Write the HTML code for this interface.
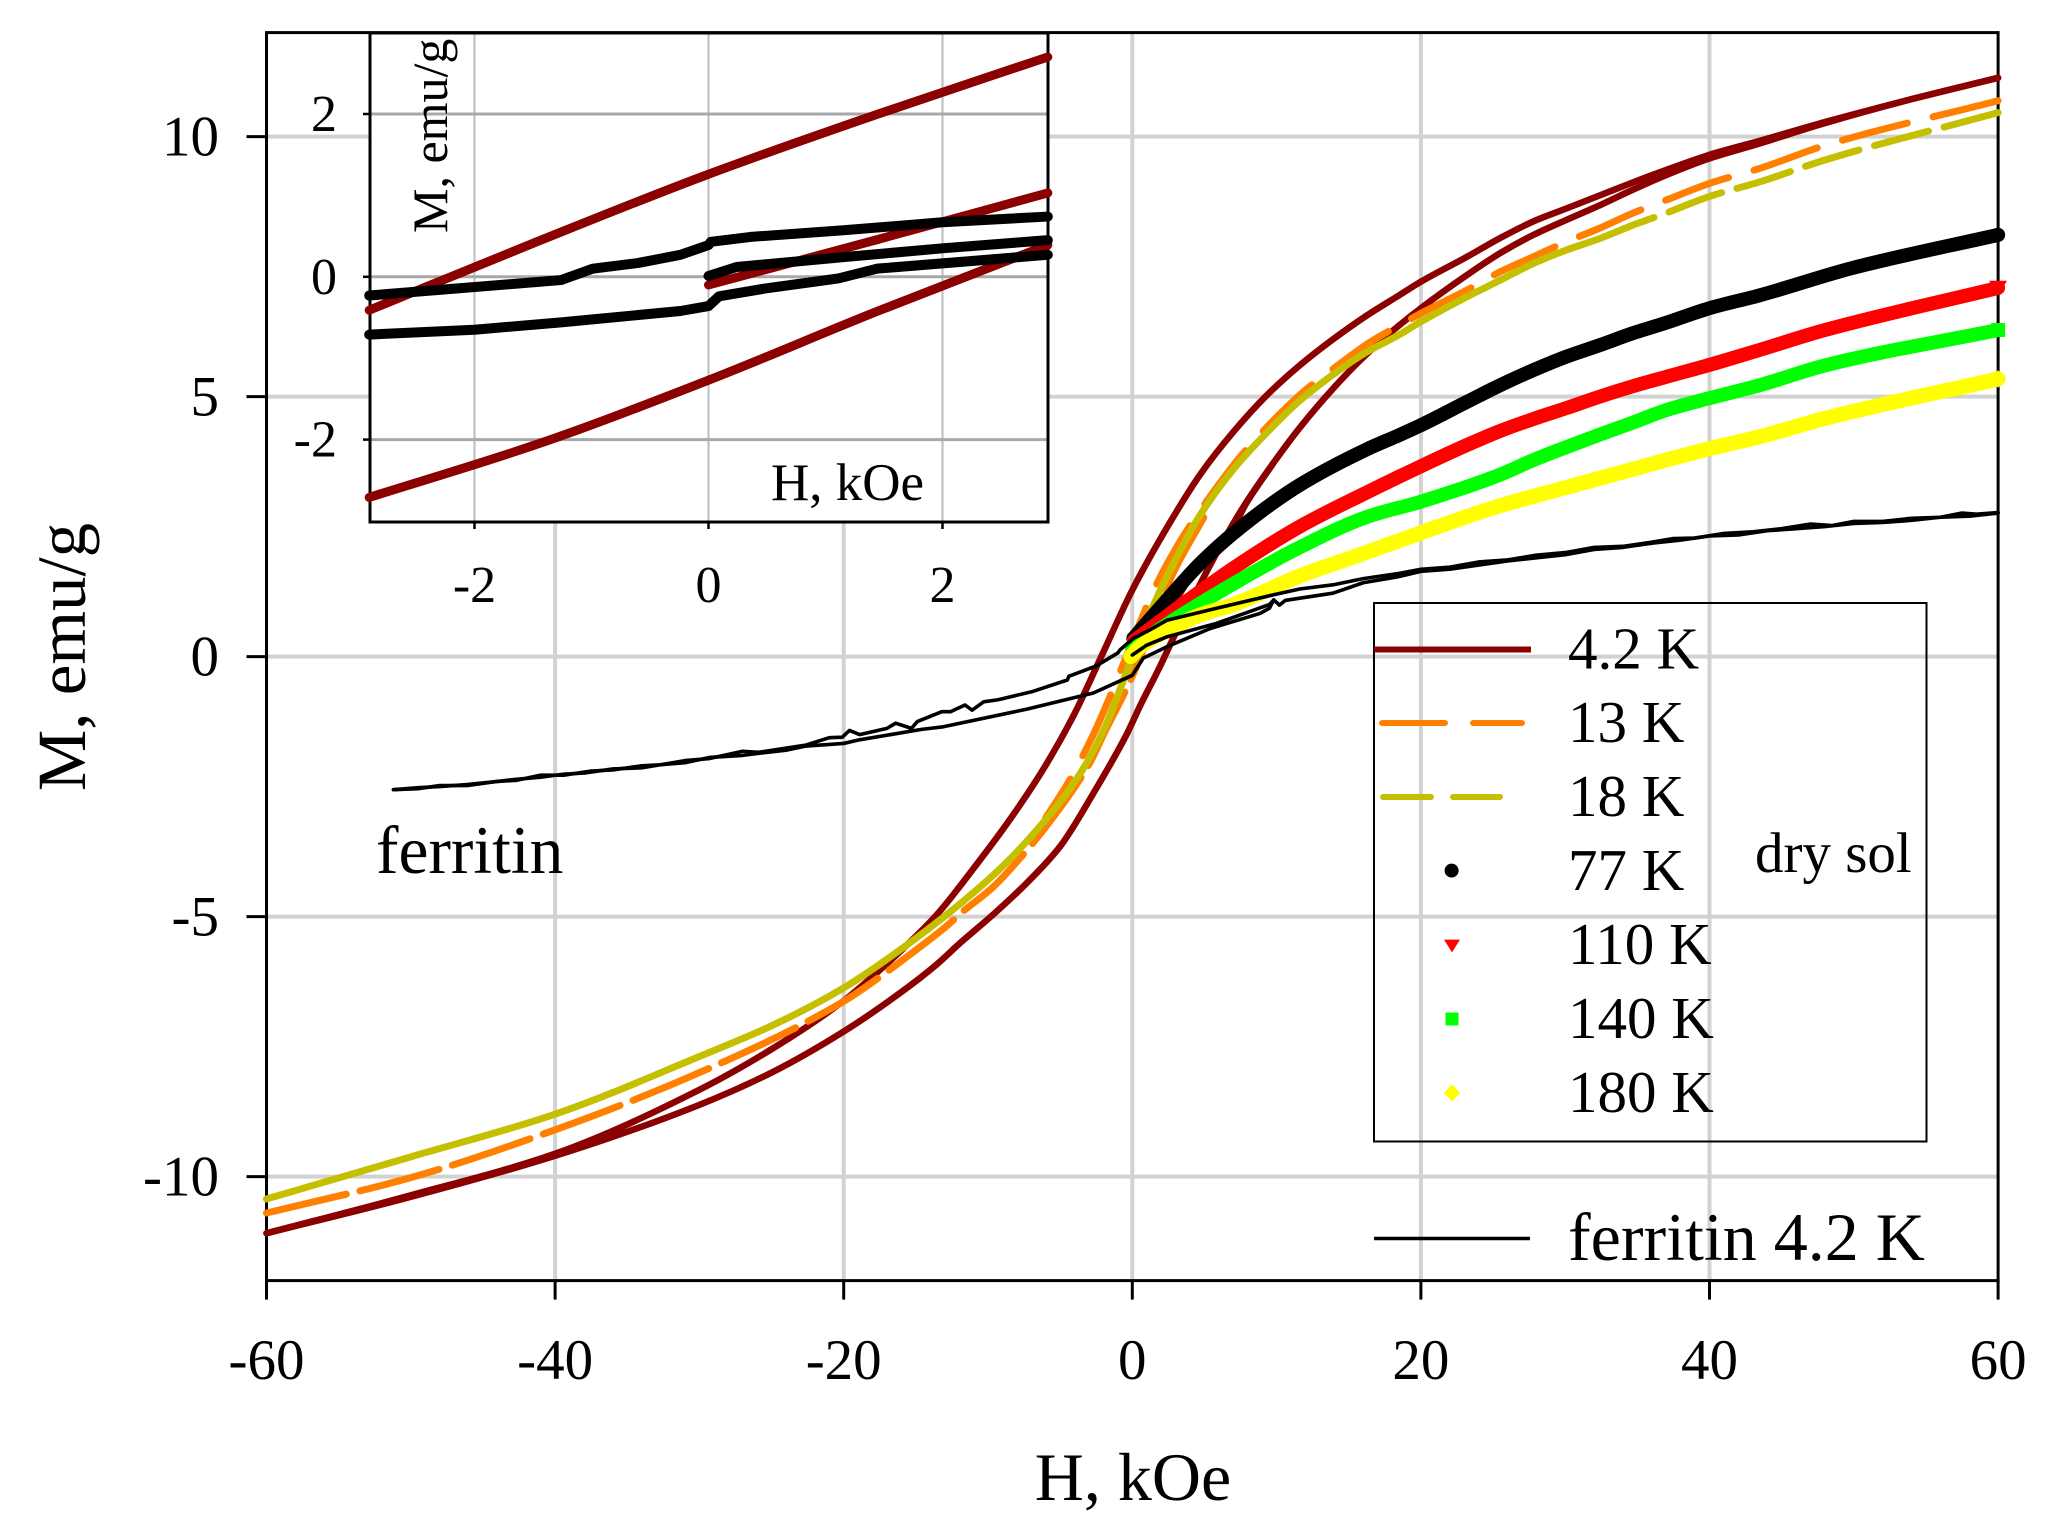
<!DOCTYPE html>
<html lang="en">
<head>
<meta charset="utf-8">
<title>Magnetization curves of dry sol and ferritin</title>
<style>
html,body{margin:0;padding:0;background:#fff;}
svg{display:block;font-family:"Liberation Serif",serif;fill:#000;}
</style>
</head>
<body>
<svg id="chart" xmlns="http://www.w3.org/2000/svg" width="2049" height="1539" viewBox="0 0 2049 1539">
</svg>
<script>
// ---- Tick labels ----
const mainXTicks = [-60,-40,-20,0,20,40,60];
const mainYTicks = [-10,-5,0,5,10];
const insetXTicks = [-2,0,2];
const insetYTicks = [-2,0,2];

// ---- Main plot data: H in kOe, M in emu/g ----
const h42Upper = [-60,-50,-40,-30,-25,-20,-18.4,-15.9,-13.6,-10.8,-8.5,-6.2,-4.1,-2.2,0,2.4,4.7,7,9.3,11.6,13.9,16.2,18.5,20,23.2,25.5,27.8,30.1,32.4,34.7,37,40,43.5,48,54,60];
const m42Upper = [-11.09,-10.36,-9.56,-8.33,-7.55,-6.62,-6.25,-5.62,-4.98,-4.0,-3.14,-2.18,-1.15,-0.03,1.28,2.48,3.5,4.32,5.02,5.6,6.1,6.55,6.95,7.21,7.69,8.05,8.37,8.62,8.87,9.12,9.36,9.65,9.92,10.28,10.72,11.13];
const h42Lower = [-60,-50,-40,-30,-25,-20,-16.1,-13.6,-11.9,-9.6,-7.3,-5,-2.7,-0.4,0,0.5,1.9,2.9,5.84,7.7,9.77,11.6,13.9,15.8,17.85,20,23.2,25.5,27.8,30.1,32.4,34.7,37,40,43.5,48,54,60];
const m42Lower = [-11.09,-10.39,-9.6,-8.62,-8.0,-7.21,-6.47,-5.93,-5.5,-4.95,-4.35,-3.65,-2.63,-1.5,-1.27,-0.97,-0.2,0.39,1.99,2.88,3.72,4.4,5.15,5.7,6.22,6.7,7.34,7.76,8.11,8.4,8.68,8.98,9.26,9.58,9.87,10.26,10.72,11.13];
const h42Virgin = [0,1,2.9,5,7,7.9,9.77];
const m42Virgin = [-0.1,0.25,1.03,1.95,2.5,2.95,3.72];

const h13Down = [-6,-4.5,-2.7,-1,0.3,1.7,3.5,5.84,7.5,10.9,12.1,14,16.5,18.5,20,23.2,25.5,27.8,30.1,32.4,34.7,37,40,43.5,48,60];
const m13Down = [-3.1,-2.45,-1.5,-0.4,0.5,1.4,2.3,3.25,3.85,4.85,5.15,5.55,6.05,6.37,6.6,7.05,7.4,7.69,7.98,8.24,8.53,8.78,9.1,9.39,9.83,10.69];
const h13Up = [-60,-50,-40,-30,-20,-17,-15.6,-12.9,-11.9,-9.6,-7.3,-5.9,-2.9,-2,0,1.9,2.6,5];
const m13Up = [-10.7,-10.02,-9.1,-8.0,-6.63,-6.06,-5.77,-5.19,-4.94,-4.42,-3.72,-3.24,-2.02,-1.5,-0.38,0.96,1.47,2.7];

const h18Solid = [-60,-50,-40,-30,-25,-20,-15.4,-10.8,-8.5,-6.2,-4.55,-2.9,-1.8,-0.4,0.3,1.2,2.4,4.7,7,9.3,11.6,13.9,16.2,18.5,20,23.2,25.5,27.8,30.1,32.4,34.7];
const m18Solid = [-10.43,-9.62,-8.8,-7.69,-7.1,-6.37,-5.5,-4.49,-3.9,-3.2,-2.63,-1.92,-1.3,-0.3,0.2,0.82,1.54,2.72,3.6,4.3,4.92,5.42,5.85,6.19,6.44,6.92,7.24,7.56,7.82,8.04,8.3];
const h18Dashed = [34.7,37,40,43.5,48,60];
const m18Dashed = [8.3,8.53,8.85,9.13,9.55,10.46];

const h77 = [0.07,2.4,4.7,7,11.6,16.2,18.5,20,23.2,25.5,27.8,30.1,32.4,34.7,37,40,43.5,50,60];
const m77 = [0.35,1.09,1.79,2.37,3.3,3.98,4.26,4.45,4.9,5.22,5.51,5.77,5.99,6.22,6.42,6.7,6.95,7.48,8.11];
const h110 = [0.1,2.4,4.7,7,11.6,16.2,20,23.2,25.5,27.8,30.1,32.4,34.7,37,40,43.5,48,60];
const m110 = [0.3,0.78,1.25,1.7,2.5,3.15,3.66,4.07,4.34,4.57,4.78,5.0,5.2,5.38,5.61,5.9,6.28,7.09];
const h140 = [0,2.4,4.7,7,11.6,16.2,20,22.7,25.5,27.8,30.1,32.4,34.7,37,40,43.5,48,60];
const m140 = [0.15,0.62,1.02,1.4,2.1,2.68,2.98,3.22,3.5,3.78,4.03,4.27,4.5,4.74,4.97,5.22,5.6,6.28];
const h180 = [-0.1,0.5,2.4,4.7,7,11.6,16.2,20,25,31.5,37,40,43.5,48,60];
const m180 = [0,0.18,0.5,0.8,1.0,1.55,2.0,2.38,2.86,3.36,3.78,4.0,4.23,4.58,5.34];

const hFerUpper = [60,58.5,57.5,56,54,52,50,48.5,47,45,43,41,39,37.5,36,34,32,30,28,26,24,22,20,18.5,16,13.9,11.6,9.8,5.84,2.4,1.2,0.07,-0.85,-1,-2.5,-4.4,-4.5,-6.9,-9.3,-10.3,-11.1,-11.6,-12.6,-13.2,-14.9,-15.3,-16.4,-17,-18.9,-19.6,-20.1,-21,-22.6,-23.5,-25.9,-27,-29.3,-31,-32.7,-34,-36,-37.5,-39.4,-41,-42.7,-44,-46.1,-48,-49.5,-51.2];
const mFerUpper = [2.77,2.74,2.76,2.68,2.66,2.6,2.6,2.52,2.55,2.46,2.4,2.37,2.28,2.27,2.2,2.12,2.1,2.0,1.95,1.86,1.82,1.72,1.68,1.6,1.5,1.38,1.3,1.19,0.93,0.7,0.51,0.35,0.13,0.07,-0.18,-0.38,-0.45,-0.67,-0.83,-0.87,-1.03,-0.93,-1.06,-1.06,-1.25,-1.38,-1.28,-1.38,-1.5,-1.42,-1.55,-1.56,-1.7,-1.74,-1.84,-1.82,-1.96,-2.0,-2.08,-2.1,-2.18,-2.2,-2.28,-2.28,-2.38,-2.4,-2.46,-2.5,-2.52,-2.56];
const hFerLower = [-51.2,-49.5,-48,-46.1,-44,-42.7,-41,-39.4,-38,-36,-34,-32.7,-31,-29.3,-27,-25.9,-24,-22.6,-20,-18.9,-14.6,-13.1,-7.3,-2.7,0,0.76,2.4,5.4,8.85,9.5,9.8,10.2,10.6,12,13.9,16,18.5,20,22,24,26,28,30,32,34,36,38,40,42,44,46,48,50,52,54,56,58,60];
const mFerLower = [-2.56,-2.54,-2.48,-2.48,-2.4,-2.36,-2.32,-2.26,-2.24,-2.16,-2.14,-2.08,-2.04,-1.94,-1.9,-1.86,-1.8,-1.72,-1.67,-1.6,-1.4,-1.35,-1.01,-0.7,-0.36,-0.03,0.19,0.54,0.83,0.93,1.09,0.99,1.08,1.14,1.22,1.42,1.54,1.64,1.68,1.76,1.84,1.9,1.96,2.06,2.1,2.18,2.24,2.32,2.34,2.42,2.46,2.5,2.56,2.58,2.62,2.68,2.7,2.76];
const hFerVirgin = [0,1,2.4,5.84,9.5,9.8];
const mFerVirgin = [0.03,0.22,0.38,0.64,1.0,1.09];

// ---- Inset data ----
const hInRedUpper = [-2.9,-1.45,0,1.45,2.9];
const mInRedUpper = [-0.41,0.44,1.26,2.0,2.7];
const hInRedLower = [-2.9,-1.45,0,1.45,2.9];
const mInRedLower = [-2.71,-2.05,-1.27,-0.42,0.39];
const hInRedVirgin = [0,1.45,2.9];
const mInRedVirgin = [-0.1,0.46,1.03];
const hInBlackUpper = [-2.9,-1.26,-0.99,-0.6,-0.24,0,0.02,0.36,1.14,2,2.9];
const mInBlackUpper = [-0.23,-0.04,0.1,0.17,0.27,0.39,0.43,0.49,0.57,0.67,0.74];
const hInBlackLower = [-2.9,-2,-1.26,-0.24,0,0.09,0.48,1.11,1.44,2.9];
const mInBlackLower = [-0.71,-0.65,-0.56,-0.42,-0.36,-0.24,-0.145,-0.02,0.1,0.27];
const hInBlackVirgin = [0,0.24,1.14,2,2.9];
const mInBlackVirgin = [0.01,0.12,0.24,0.35,0.45];

// ---- Axis functions ----
function xMain(h){return 1132.3+14.43*h;}
function yMain(m){return 656.6-52*m;}
function xIn(h){return 708.5+117*h;}
function yIn(m){return 276.8-81.4*m;}

const NS='http://www.w3.org/2000/svg';
const svg=document.getElementById('chart');

function shape(tag,attrs,parent){
  const el=document.createElementNS(NS,tag);
  for(const k in attrs){el.setAttribute(k,attrs[k]);}
  (parent||svg).appendChild(el);
  return el;
}
function hline(x1,x2,y,color,w,parent){
  return shape('line',{x1:x1,x2:x2,y1:y,y2:y,stroke:color,'stroke-width':w},parent);
}
function vline(x,y1,y2,color,w,parent){
  return shape('line',{x1:x,x2:x,y1:y1,y2:y2,stroke:color,'stroke-width':w},parent);
}
function label(str,x,y,size,anchor,parent){
  const t=shape('text',{x:x,y:y,'font-size':size,'text-anchor':anchor||'start'},parent);
  t.textContent=str;
  return t;
}
// x-monotone cubic through the points
function smoothPath(xs,ys){
  const n=xs.length,dx=[],s=[],t=[];
  for(let i=0;i<n-1;i++){dx[i]=xs[i+1]-xs[i];s[i]=(ys[i+1]-ys[i])/dx[i];}
  t[0]=s[0];t[n-1]=s[n-2];
  for(let i=1;i<n-1;i++){
    if(s[i-1]*s[i]<=0){t[i]=0;}
    else{const a=dx[i-1],b=dx[i];t[i]=3*(a+b)/((2*b+a)/s[i-1]+(2*a+b)/s[i]);}
  }
  let d='M'+xs[0].toFixed(2)+' '+ys[0].toFixed(2);
  for(let i=0;i<n-1;i++){
    const c=dx[i]/3;
    d+='C'+(xs[i]+c).toFixed(2)+' '+(ys[i]+t[i]*c).toFixed(2)+' '+(xs[i+1]-c).toFixed(2)+' '+(ys[i+1]-t[i+1]*c).toFixed(2)+' '+xs[i+1].toFixed(2)+' '+ys[i+1].toFixed(2);
  }
  return d;
}
function linePath(xs,ys){
  return xs.map((x,i)=>(i?'L':'M')+x.toFixed(2)+' '+ys[i].toFixed(2)).join('');
}
function curve(hs,ms,fx,fy,color,w,opts){
  opts=opts||{};
  let xs=hs.map(fx),ys=ms.map(fy);
  if(opts.reverse){xs=xs.slice().reverse();ys=ys.slice().reverse();}
  const d=opts.linear?linePath(xs,ys):smoothPath(xs,ys);
  const a={d:d,fill:'none',stroke:color,'stroke-width':w,'stroke-linecap':'round','stroke-linejoin':'round'};
  if(opts.dash){a['stroke-dasharray']=opts.dash;}
  return shape('path',a);
}
function circleMark(x,y,r,color,parent){return shape('circle',{cx:x,cy:y,r:r,fill:color},parent);}
function triangleMark(x,y,s,color,parent){return shape('polygon',{points:(x-s)+','+(y-s*0.8)+' '+(x+s)+','+(y-s*0.8)+' '+x+','+(y+s*0.8),fill:color},parent);}
function squareMark(x,y,s,color,parent){return shape('rect',{x:x-s,y:y-s,width:2*s,height:2*s,fill:color},parent);}
function diamondMark(x,y,s,color,parent){return shape('polygon',{points:(x-s)+','+y+' '+x+','+(y-s*1.1)+' '+(x+s)+','+y+' '+x+','+(y+s*1.1),fill:color},parent);}

// ---- Main gridlines ----
const mainXMin=xMain(-60),mainXMax=xMain(60),mainYTop=yMain(12),mainYBot=yMain(-12);
mainXTicks.forEach(v=>{
  if(v===-60||v===60)return;
  const g=vline(xMain(v),mainYTop,mainYBot,'#d2d2d2',4);
  
  
});
mainYTicks.forEach(v=>{
  const g=hline(mainXMin,mainXMax,yMain(v),'#d2d2d2',4);
  
  
});

// ---- Main frame and ticks ----
const frame=shape('rect',{x:mainXMin,y:mainYTop,width:mainXMax-mainXMin,height:mainYBot-mainYTop,fill:'none',stroke:'#000','stroke-width':3});


mainXTicks.forEach(v=>{
  const t=vline(xMain(v),mainYBot,mainYBot+19,'#000',3);
  
  
  const l=label(String(v),xMain(v),1379,57,'middle');
  
  
});
mainYTicks.forEach(v=>{
  const t=hline(mainXMin-20,mainXMin,yMain(v),'#000',3);
  
  
  const l=label(String(v),219,yMain(v)+19,57,'end');
  
  
});

// ---- Main series ----
const DARK='#8b0000',ORANGE='#ff8000',OLIVE='#c4c000',RED='#ff0000',GREEN='#00ff00',YELLOW='#ffff00';
const s1=curve(h42Upper,m42Upper,xMain,yMain,DARK,6.5);


const s2=curve(h42Lower,m42Lower,xMain,yMain,DARK,6.5);


const s3=curve(h42Virgin,m42Virgin,xMain,yMain,DARK,6.5);



const s4=curve(h13Down,m13Down,xMain,yMain,ORANGE,7,{reverse:true,dash:'67 26.5'});


const s5=curve(h13Up,m13Up,xMain,yMain,ORANGE,7,{dash:'82 14'});



const s6=curve(h18Dashed,m18Dashed,xMain,yMain,OLIVE,7,{reverse:true,dash:'56 16'});


const s7=curve(h18Solid,m18Solid,xMain,yMain,OLIVE,7);



const s8=curve(h77,m77,xMain,yMain,'#000',14);


const s9=curve(h110,m110,xMain,yMain,RED,14);


const s10=curve(h140,m140,xMain,yMain,GREEN,14);


const s11=curve(h180,m180,xMain,yMain,YELLOW,15);



const e1=circleMark(xMain(60),yMain(m77[m77.length-1]),7,'#000');


const e2=triangleMark(xMain(60),yMain(m110[m110.length-1]),9,RED);


const e3=squareMark(xMain(60),yMain(m140[m140.length-1]),7,GREEN);


const e4=diamondMark(xMain(60),yMain(m180[m180.length-1]),8,YELLOW);



const f1=curve(hFerUpper,mFerUpper,xMain,yMain,'#000',3.6,{linear:true});


const f2=curve(hFerLower,mFerLower,xMain,yMain,'#000',3.6,{linear:true});


const f3=curve(hFerVirgin,mFerVirgin,xMain,yMain,'#000',3.6,{linear:true});



// ---- Inset ----
const inL=370,inR=1048,inT=33,inB=522;
const inBg=shape('rect',{x:inL,y:inT,width:inR-inL,height:inB-inT,fill:'#fff'});


insetXTicks.forEach(v=>{
  const g=vline(xIn(v),inT,inB,'#bcbcbc',2);
  
  
  const t=vline(xIn(v),inB,inB+7,'#000',2.5);
  
  
  const l=label(String(v),xIn(v),602,52,'middle');
  
  
});
insetYTicks.forEach(v=>{
  const g=hline(inL,inR,yIn(v),'#a8a8a8',3);
  
  
  const t=hline(inL-7,inL,yIn(v),'#000',2.5);
  
  
  const l=label(String(v),337,yIn(v)+17,52,'end');
  
  
});
const inFrame=shape('rect',{x:inL,y:inT,width:inR-inL,height:inB-inT,fill:'none',stroke:'#000','stroke-width':3});



const i1=curve(hInRedUpper,mInRedUpper,xIn,yIn,DARK,9);


const i2=curve(hInRedLower,mInRedLower,xIn,yIn,DARK,9);


const i3=curve(hInRedVirgin,mInRedVirgin,xIn,yIn,DARK,9);


const i4=curve(hInBlackUpper,mInBlackUpper,xIn,yIn,'#000',10,{linear:true});


const i5=curve(hInBlackLower,mInBlackLower,xIn,yIn,'#000',10,{linear:true});


const i6=curve(hInBlackVirgin,mInBlackVirgin,xIn,yIn,'#000',10,{linear:true});



// ---- Legend ----
const leg=shape('rect',{x:1374,y:603,width:552.5,height:538.5,fill:'none',stroke:'#000','stroke-width':2});


const l1=hline(1374,1531,649.5,DARK,6);


const l2=shape('path',{d:'M1382 723H1522',fill:'none',stroke:ORANGE,'stroke-width':6,'stroke-linecap':'round','stroke-dasharray':'63 28'});


const l3=shape('path',{d:'M1383 797H1500',fill:'none',stroke:OLIVE,'stroke-width':6,'stroke-linecap':'round','stroke-dasharray':'48 22'});


const l4=circleMark(1451.6,870.6,7,'#000');


const l5=triangleMark(1452,946,8,RED);


const l6=squareMark(1452,1019,6.5,GREEN);


const l7=diamondMark(1452,1093,8,YELLOW);


const l8=hline(1374,1530,1238.5,'#000',3.5);


</script>
<script>
// Static text labels placed as real text
(function(){
  const NS='http://www.w3.org/2000/svg';
  const svg=document.getElementById('chart');
  function add(name,str,x,y,size,transform,anchor){
    const t=document.createElementNS(NS,'text');
    t.setAttribute('x',x);
    t.setAttribute('y',y);
    t.setAttribute('font-size',size);
    if(transform){t.setAttribute('transform',transform);}
    if(anchor){t.setAttribute('text-anchor',anchor);}
    
    
    t.textContent=str;
    svg.appendChild(t);
  }
  add('legend-label-4-2k','4.2 K',1568,668.5,59);
  add('legend-label-13k','13 K',1568,742,59);
  add('legend-label-18k','18 K',1568,816,59);
  add('legend-label-77k','77 K',1568,890,59);
  add('legend-label-110k','110 K',1568,964,59);
  add('legend-label-140k','140 K',1568,1038,59);
  add('legend-label-180k','180 K',1568,1112,59);
  add('legend-label-dry-sol','dry sol',1755,872,57);
  add('legend-label-ferritin','ferritin 4.2 K',1568,1260,68);
  add('ferritin-annotation','ferritin',376,873,67.5);
  add('x-axis-title','H, kOe',1133,1500,68,null,'middle');
  add('y-axis-title','M, emu/g',85,657,69,'rotate(-90 85 657)','middle');
  add('inset-x-axis-title','H, kOe',771,500,53);
  add('inset-y-axis-title','M, emu/g',447,233,50,'rotate(-90 447 233)');
})();
</script>
</body>
</html>
